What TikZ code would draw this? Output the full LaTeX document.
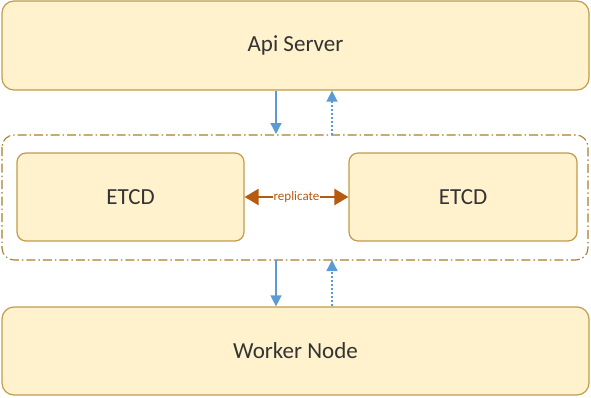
\documentclass[tikz,border=0pt]{standalone}
\usepackage{fontspec}
\setmainfont{Carlito}
\usetikzlibrary{arrows.meta}
\definecolor{boxfill}{HTML}{FFF2CC}
\definecolor{boxline}{HTML}{C39B4A}
\definecolor{groupline}{HTML}{A8802A}
\definecolor{flowblue}{HTML}{5B9BD5}
\definecolor{repl}{HTML}{B55A0E}
\begin{document}
\begin{tikzpicture}[x=1pt,y=-1pt,
  panel/.style={draw=boxline,line width=1.2pt,fill=boxfill,rounded corners=12pt,
    inner sep=0pt,font=\fontsize{23}{26}\selectfont,text=black!80},
  etcdbox/.style={draw=boxline,line width=1.2pt,fill=boxfill,rounded corners=9pt,
    inner sep=0pt,font=\fontsize{23}{26}\selectfont,text=black!80},
  group/.style={draw=groupline,line width=1.1pt,dash pattern=on 9pt off 3pt on 1.5pt off 3pt,
    rounded corners=12pt},
  request/.style={draw=flowblue,line width=1.4pt,-{Triangle[length=11pt,width=11pt]}},
  reply/.style={draw=flowblue,line width=1.4pt,dash pattern=on 2pt off 2pt,-{Triangle[length=11pt,width=11pt]}},
  sync/.style={draw=repl,line width=2.4pt,{Triangle[length=14pt,width=16pt]}-{Triangle[length=14pt,width=16pt]}}]
\useasboundingbox (0,0) rectangle (591,397);
% top and bottom tiers
\node[panel,minimum width=587pt,minimum height=89pt] (api) at (295.5,45.5) {Api Server};
\node[panel,minimum width=587pt,minimum height=88pt] (worker) at (295.5,351) {Worker Node};
% etcd cluster group
\draw[group] (2,135) rectangle (588,260);
\node[etcdbox,minimum width=227pt,minimum height=88pt] (e1) at (130.5,197) {ETCD};
\node[etcdbox,minimum width=228pt,minimum height=88pt] (e2) at (463,197) {ETCD};
% replication between members
\draw[sync] (e1.east) -- node[fill=white,inner sep=1pt,text=repl,font=\fontsize{13}{15}\selectfont] {replicate} (e2.west);
% traffic between tiers
\draw[request] (api.south -| 276,0) -- (276,134);
\draw[reply] (332,135) -- (api.south -| 332,0);
\draw[request] (276,260) -- (worker.north -| 276,0);
\draw[reply] (worker.north -| 332,0) -- (332,260);
\end{tikzpicture}
\end{document}
